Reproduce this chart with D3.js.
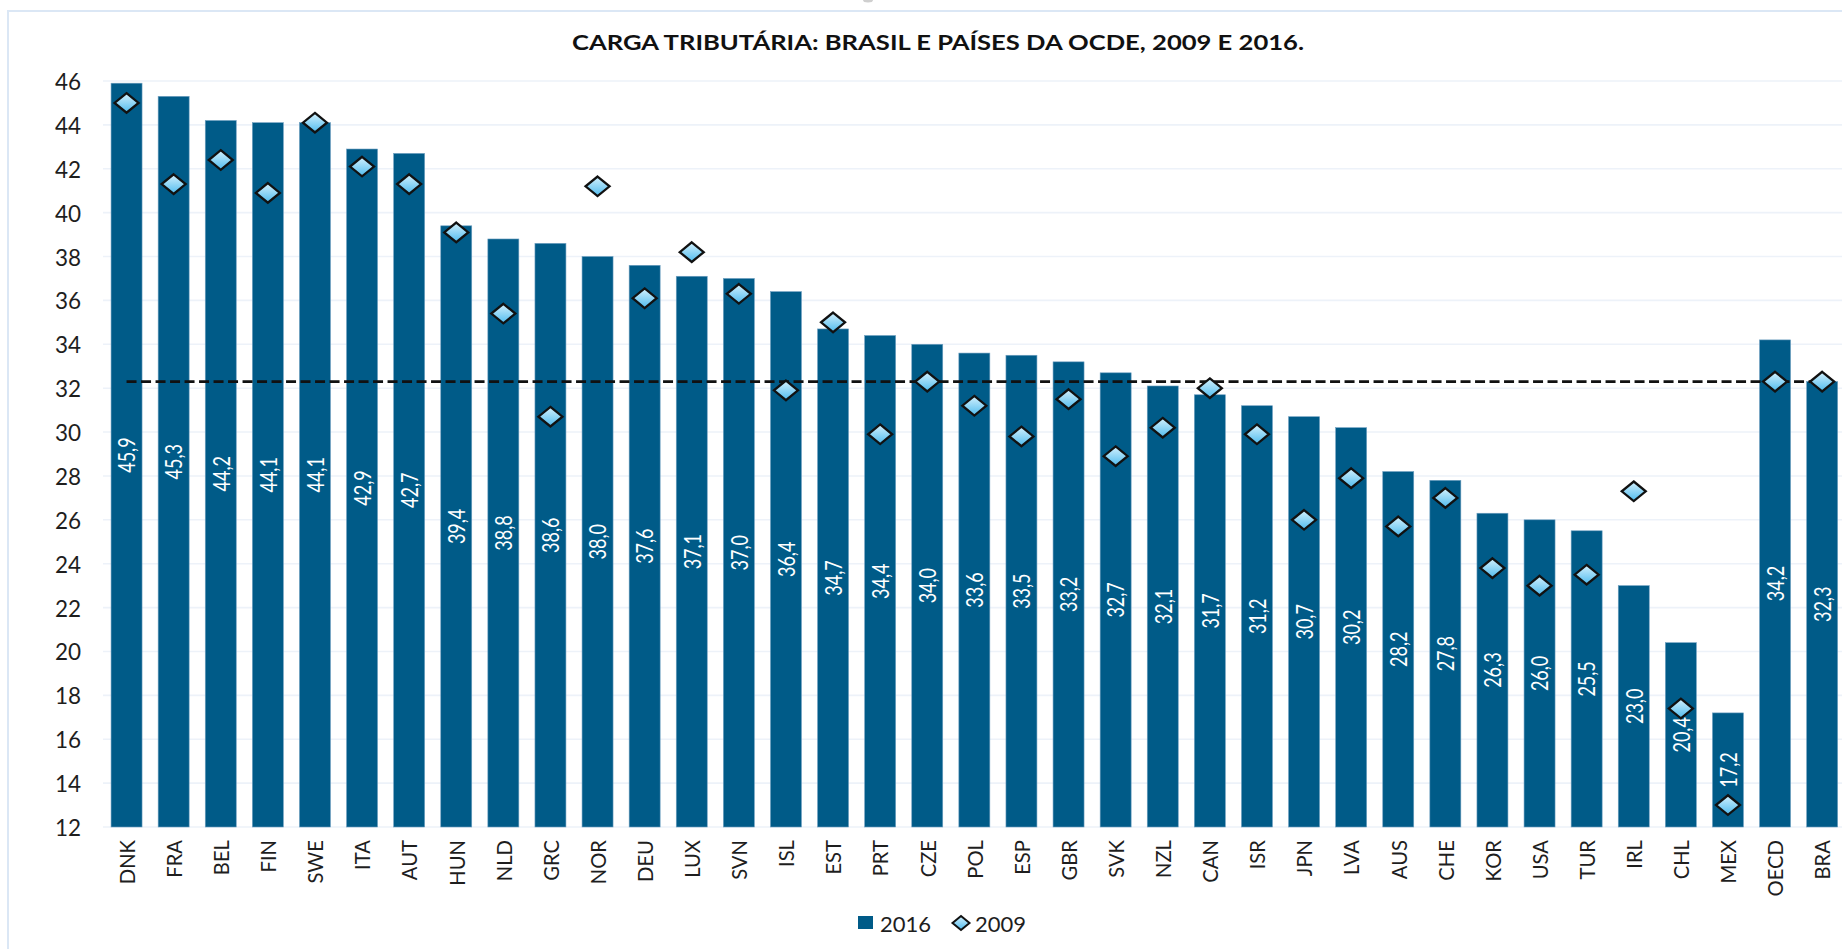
<!DOCTYPE html>
<html><head><meta charset="utf-8">
<script src="https://cdn.jsdelivr.net/npm/d3@7/dist/d3.min.js"></script>
<style>html,body{margin:0;padding:0;background:#fff;overflow:hidden}</style>
</head><body>
<svg id="chart" width="1842" height="949"></svg>
<script>
const categories = ["DNK","FRA","BEL","FIN","SWE","ITA","AUT","HUN","NLD","GRC","NOR","DEU","LUX","SVN","ISL","EST","PRT","CZE","POL","ESP","GBR","SVK","NZL","CAN","ISR","JPN","LVA","AUS","CHE","KOR","USA","TUR","IRL","CHL","MEX","OECD","BRA"];
const values2016 = [45.9,45.3,44.2,44.1,44.1,42.9,42.7,39.4,38.8,38.6,38.0,37.6,37.1,37.0,36.4,34.7,34.4,34.0,33.6,33.5,33.2,32.7,32.1,31.7,31.2,30.7,30.2,28.2,27.8,26.3,26.0,25.5,23.0,20.4,17.2,34.2,32.3];
const values2009 = [45.0,41.3,42.4,40.9,44.1,42.1,41.3,39.1,35.4,30.7,41.2,36.1,38.2,36.3,31.9,35.0,29.9,32.3,31.2,29.8,31.5,28.9,30.2,32.0,29.9,26.0,27.9,25.7,27.0,23.8,23.0,23.5,27.3,17.4,13.0,32.3,32.3];
const yTicks = [12,14,16,18,20,22,24,26,28,30,32,34,36,38,40,42,44,46];
const titleText = "CARGA TRIBUTÁRIA: BRASIL E PAÍSES DA OCDE, 2009 E 2016.";
const seriesNames = ["2016","2009"];
const referenceCategory = "BRA";

const FONT = "Lato, 'Open Sans', sans-serif";
const BAR = "#005b88";
const TXT = "#1e1e1e";

const svg = d3.select("#chart");
const defs = svg.append("defs");
const grad = defs.append("linearGradient").attr("id","dg").attr("x1",0).attr("y1",0).attr("x2",0).attr("y2",1);
grad.append("stop").attr("offset","0%").attr("stop-color","#d4f1fd");
grad.append("stop").attr("offset","100%").attr("stop-color","#4fbbee");

// frame
svg.append("rect").attr("x",8).attr("y",11).attr("width",1900).attr("height",1000)
  .attr("fill","none").attr("stroke","#dbe7f5").attr("stroke-width",2);
svg.append("ellipse").attr("cx",868).attr("cy",0).attr("rx",5).attr("ry",2.5).attr("fill","#cfcfcf");

const x = d3.scaleBand().domain(categories).range([103, 1845.7]).paddingInner(0.342).paddingOuter(0.171);
const y = d3.scaleLinear().domain([12,46]).range([827,81]);

// gridlines
svg.append("g").selectAll("line").data(yTicks).join("line")
  .attr("x1",103).attr("x2",1842).attr("y1",d=>y(d)).attr("y2",d=>y(d))
  .attr("stroke","#edf2f9").attr("stroke-width",1.6);

// y axis
const yAxis = d3.axisLeft(y).tickValues(yTicks).tickSize(0).tickPadding(0);
const gy = svg.append("g").attr("transform","translate(81,0)").call(yAxis);
gy.select(".domain").remove();
gy.selectAll("text").attr("font-family",FONT).attr("font-size",22.5).attr("fill",TXT)
  .attr("dy",null).attr("dominant-baseline","central");

// bars
svg.append("g").selectAll("rect").data(categories).join("rect")
  .attr("x",d=>x(d)).attr("width",x.bandwidth())
  .attr("y",(d,i)=>y(values2016[i])).attr("height",(d,i)=>y(12)-y(values2016[i]))
  .attr("fill",BAR).attr("stroke","#6e9fc0").attr("stroke-width",0.6);

// bar labels
const fmt = v => d3.format(".1f")(v).replace(".", ",");
svg.append("g").selectAll("text").data(categories).join("text")
  .attr("transform",(d,i)=>`translate(${x(d)+x.bandwidth()/2},${(y(values2016[i])+y(12))/2}) rotate(-90) scale(0.8,1)`)
  .attr("text-anchor","middle").attr("dominant-baseline","central")
  .attr("font-family",FONT).attr("font-size",22.5).attr("fill","#ffffff")
  .text((d,i)=>fmt(values2016[i]));

// reference dashed line
const refVal = values2016[categories.indexOf(referenceCategory)];
const line = d3.line().x(d=>x(d)+x.bandwidth()/2).y(()=>y(refVal));
svg.append("path").datum([categories[0], categories[categories.length-1]])
  .attr("d",line).attr("fill","none").attr("stroke","#111").attr("stroke-width",2.6)
  .attr("stroke-dasharray","10,4.5");

// diamonds
const dia = (cx,cy,w,h) => `M${cx},${cy-h} L${cx+w},${cy} L${cx},${cy+h} L${cx-w},${cy} Z`;
svg.append("g").selectAll("path").data(categories).join("path")
  .attr("d",(d,i)=>dia(x(d)+x.bandwidth()/2, y(values2009[i]), 12, 9.8))
  .attr("fill","url(#dg)").attr("stroke","#111").attr("stroke-width",2.3).attr("stroke-linejoin","miter");

// x axis labels
const xAxis = d3.axisBottom(x).tickSize(0).tickPadding(0);
const gx = svg.append("g").attr("transform","translate(0,840)").call(xAxis);
gx.select(".domain").remove();
gx.selectAll("text").attr("font-family",FONT).attr("font-size",22).attr("fill",TXT)
  .attr("y",0).attr("dy",null).attr("text-anchor","end").attr("dominant-baseline","central")
  .attr("transform","rotate(-90) scale(0.92,1)");

// title
svg.append("text").attr("x",938).attr("y",50).attr("text-anchor","middle")
  .attr("font-family",FONT).attr("font-weight","bold").attr("font-size",21.5).attr("fill","#111")
  .attr("textLength",732).attr("lengthAdjust","spacingAndGlyphs").text(titleText);

// legend
const lg = svg.append("g");
lg.append("rect").attr("x",858).attr("y",916).attr("width",15).attr("height",13).attr("fill",BAR);
lg.append("text").attr("x",880).attr("y",923).attr("dominant-baseline","central")
  .attr("font-family",FONT).attr("font-size",22).attr("fill",TXT).text(seriesNames[0]);
lg.append("path").attr("d",dia(961,923,8.5,7)).attr("fill","url(#dg)").attr("stroke","#111").attr("stroke-width",2);
lg.append("text").attr("x",975).attr("y",923).attr("dominant-baseline","central")
  .attr("font-family",FONT).attr("font-size",22).attr("fill",TXT).text(seriesNames[1]);
</script>
</body></html>
